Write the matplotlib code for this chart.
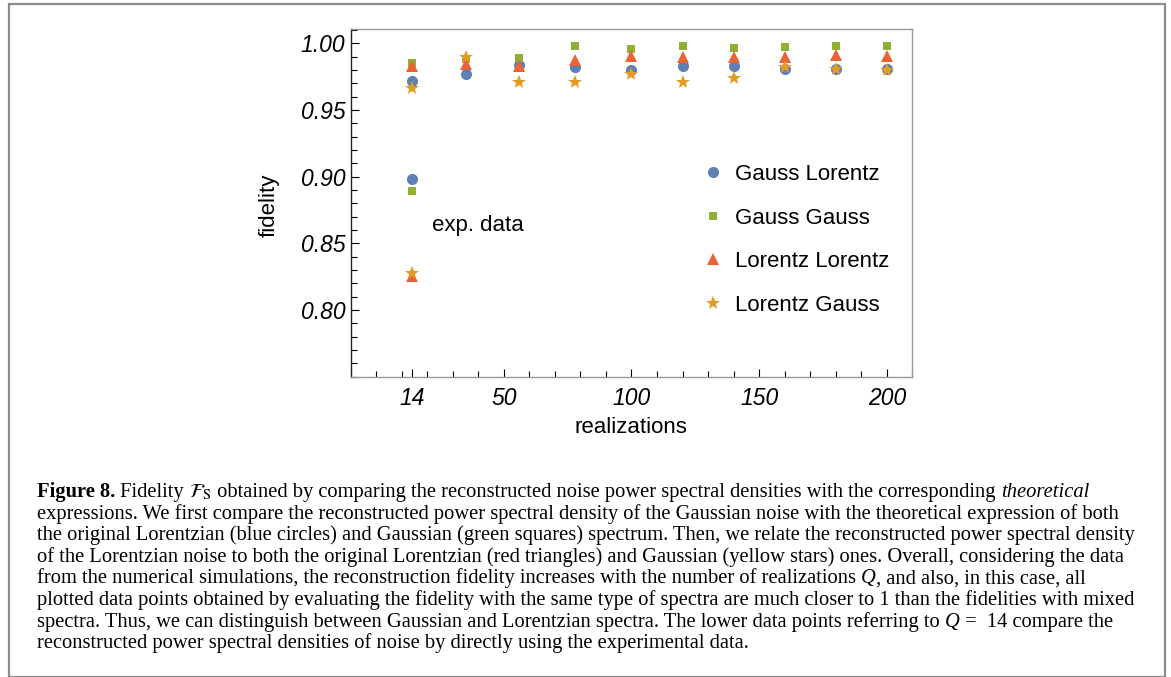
import matplotlib
matplotlib.use("Agg")
import matplotlib.pyplot as plt
from matplotlib.lines import Line2D
from matplotlib.patches import Rectangle
from matplotlib.ticker import FixedLocator, MultipleLocator, FormatStrFormatter

# --- data ---
realizations = [14, 35, 56, 78, 100, 120, 140, 160, 180, 200]
gauss_lorentz = [0.972, 0.9767, 0.984, 0.982, 0.980, 0.983, 0.9833, 0.981, 0.981, 0.981]
gauss_gauss = [0.985, 0.988, 0.9887, 0.998, 0.9957, 0.998, 0.9965, 0.997, 0.998, 0.998]
lorentz_lorentz = [0.983, 0.9845, 0.983, 0.9875, 0.9905, 0.9895, 0.9895, 0.9895, 0.991, 0.9907]
lorentz_gauss = [0.9667, 0.9895, 0.971, 0.9707, 0.9767, 0.971, 0.974, 0.982, 0.9807, 0.980]

# experimental data, Q = 14
exp_q = [14]
exp_gauss_lorentz = [0.898]
exp_gauss_gauss = [0.889]
exp_lorentz_lorentz = [0.8255]
exp_lorentz_gauss = [0.8275]

series_names = ["Gauss Lorentz", "Gauss Gauss", "Lorentz Lorentz", "Lorentz Gauss"]
x_ticks = [14, 50, 100, 150, 200]
y_ticks = [0.80, 0.85, 0.90, 0.95, 1.00]

caption_lines = [
    [("Figure 8.", "bold"), (" Fidelity ", "normal"), (r"$\mathcal{F}_\mathrm{S}$", "math"),
     (" obtained by comparing the reconstructed noise power spectral densities with the corresponding ", "normal"),
     ("theoretical", "italic")],
    [("expressions. We first compare the reconstructed power spectral density of the Gaussian noise with the theoretical expression of both", "normal")],
    [("the original Lorentzian (blue circles) and Gaussian (green squares) spectrum. Then, we relate the reconstructed power spectral density", "normal")],
    [("of the Lorentzian noise to both the original Lorentzian (red triangles) and Gaussian (yellow stars) ones. Overall, considering the data", "normal")],
    [("from the numerical simulations, the reconstruction fidelity increases with the number of realizations ", "normal"),
     ("Q", "italic"), (", and also, in this case, all", "normal")],
    [("plotted data points obtained by evaluating the fidelity with the same type of spectra are much closer to 1 than the fidelities with mixed", "normal")],
    [("spectra. Thus, we can distinguish between Gaussian and Lorentzian spectra. The lower data points referring to ", "normal"),
     ("Q", "italic"), (" =  14 compare the", "normal")],
    [("reconstructed power spectral densities of noise by directly using the experimental data.", "normal")],
]

plt.rcParams["font.family"] = "Liberation Sans"
plt.rcParams["mathtext.fontset"] = "stix"

W, H = 1171, 677
fig = plt.figure(figsize=(W / 100, H / 100), dpi=100)
fig.patch.set_facecolor("white")

# outer gray box
fig.patches.append(Rectangle((8.5 / W, 0.0), 1156 / W, 1 - 3.5 / H, transform=fig.transFigure,
                             fill=False, edgecolor="#8c8c8c", linewidth=1.6))

ax = fig.add_axes([350.7 / W, 1 - 377.3 / H, 561.6 / W, 348 / H])

colors = ["#5E81B5", "#8FB032", "#EB6235", "#E19C24"]
markers = ["o", "s", "^", "*"]
sizes = [8.0, 5.8, 8.0, 10.0]
sim = [gauss_lorentz, gauss_gauss, lorentz_lorentz, lorentz_gauss]
exp = [exp_gauss_lorentz, exp_gauss_gauss, exp_lorentz_lorentz, exp_lorentz_gauss]

for vals, evals, c, m, ms in zip(sim, exp, colors, markers, sizes):
    ax.plot(realizations, vals, ls="none", marker=m, color=c, ms=ms, mew=0)
    ax.plot(exp_q, evals, ls="none", marker=m, color=c, ms=ms, mew=0)

ax.set_xlim(-10, 210)
ax.set_ylim(0.7495, 1.0105)

ax.xaxis.set_major_locator(FixedLocator(x_ticks))
ax.xaxis.set_minor_locator(MultipleLocator(10))
ax.yaxis.set_major_locator(FixedLocator(y_ticks))
ax.yaxis.set_minor_locator(MultipleLocator(0.01))
ax.yaxis.set_major_formatter(FormatStrFormatter("%.2f"))

ax.tick_params(which="both", direction="in", top=False, right=False, color="black", width=0.8)
ax.tick_params(which="major", length=6, labelsize=16.5)
ax.tick_params(which="minor", length=4)
ax.tick_params(axis="x", pad=7)
ax.tick_params(axis="y", pad=4)
for lbl in ax.get_xticklabels() + ax.get_yticklabels():
    lbl.set_fontstyle("italic")

for side in ["top", "right", "bottom"]:
    ax.spines[side].set_color("#999999")
    ax.spines[side].set_linewidth(1.0)
ax.spines["left"].set_color("#222222")
ax.spines["left"].set_linewidth(1.0)

ax.set_xlabel("realizations", fontsize=16, va="center")
ax.xaxis.set_label_coords(0.499, -0.143)
ax.set_ylabel("fidelity", fontsize=16, va="center")
ax.yaxis.set_label_coords(-0.145, 0.495)

ax.text(22, 0.8637, "exp. data", fontsize=16, va="center", ha="left")

handles = [Line2D([], [], ls="none", marker=m, color=c, ms=ms, mew=0)
           for c, m, ms in zip(colors, markers, sizes)]
ax.legend(handles, series_names, loc="center left", bbox_to_anchor=(0.626, 0.395),
          frameon=False, borderpad=0, borderaxespad=0, handlelength=1.0,
          handletextpad=0.48, labelspacing=1.02, fontsize=16, numpoints=1)

# --- caption, drawn piece by piece so styles can be mixed ---
renderer = fig.canvas.get_renderer()
styles = {
    "normal": dict(family="Liberation Serif"),
    "bold": dict(family="Liberation Serif", weight="bold"),
    "italic": dict(family="Liberation Serif", style="italic"),
    "math": dict(family="Liberation Serif"),
}


def advance(txt, kind, size):
    props = dict(styles[kind], fontsize=size)
    t1 = fig.text(0, 0, txt + "|", **props)
    t2 = fig.text(0, 0, "|", **props)
    w = t1.get_window_extent(renderer).width - t2.get_window_extent(renderer).width
    t1.remove()
    t2.remove()
    return w


# size the caption font so the widest line fills the box like the original
base = 12.0
widest = max(sum(advance(t, k, base) for t, k in line) for line in caption_lines)
cap_size = base * 1095 / widest

for i, line in enumerate(caption_lines):
    x = 37.0
    y = 497 + i * 21.6
    for txt, kind in line:
        fig.text(x / W, 1 - y / H, txt, fontsize=cap_size, ha="left", va="baseline", **styles[kind])
        x += advance(txt, kind, cap_size)

fig.savefig("out.png", dpi=100, facecolor="white")
